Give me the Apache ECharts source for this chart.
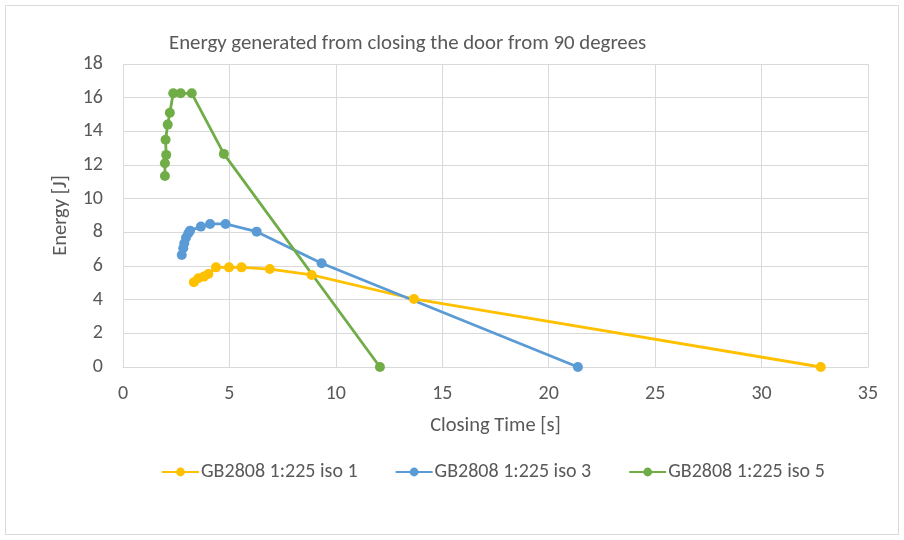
<!DOCTYPE html>
<html><head><meta charset="utf-8">
<script src="https://cdn.jsdelivr.net/npm/echarts@6/dist/echarts.min.js"></script>
<style>html,body{margin:0;padding:0;background:#fff}#c{width:904px;height:540px}</style>
</head><body><div id="c"></div>
<script>
const seriesNames = ['GB2808 1:225 iso 1', 'GB2808 1:225 iso 3', 'GB2808 1:225 iso 5'];
const iso1X = [3.33, 3.54, 3.80, 4.01, 4.37, 4.98, 5.57, 6.90, 8.86, 13.67, 32.78];
const iso1Y = [5.03, 5.27, 5.37, 5.53, 5.92, 5.92, 5.92, 5.82, 5.47, 4.04, 0];
const iso3X = [2.76, 2.83, 2.88, 2.96, 3.07, 3.15, 3.66, 4.09, 4.82, 6.28, 9.33, 21.37];
const iso3Y = [6.65, 7.05, 7.35, 7.68, 7.94, 8.10, 8.34, 8.50, 8.50, 8.04, 6.16, 0];
const iso5X = [1.97, 1.97, 2.03, 2.00, 2.10, 2.20, 2.36, 2.71, 3.23, 4.74, 12.07];
const iso5Y = [11.35, 12.10, 12.60, 13.50, 14.40, 15.10, 16.26, 16.26, 16.26, 12.66, 0];
const colors = ['#FFC000', '#5B9BD5', '#70AD47'];
const font = 'Carlito, Calibri, Lato, "Noto Sans", sans-serif';

const zip = (xs, ys) => xs.map((x, i) => [x, ys[i]]);
const chart = echarts.init(document.getElementById('c'), null, {renderer: 'canvas'});
chart.setOption({
  animation: false,
  color: colors,
  textStyle: {fontFamily: font},
  title: {text: 'Energy generated from closing the door from 90 degrees', left: 164, top: 28,
    textStyle: {fontSize: 20.8, fontWeight: 'normal', color: '#595959', fontFamily: font}},
  grid: {left: 123, right: 36, top: 64, bottom: 173, containLabel: false},
  legend: {top: 457, left: 156, itemGap: 37, itemWidth: 37, itemHeight: 11,
    textStyle: {fontSize: 20, color: '#595959', fontFamily: font, padding: [0, 0, 0, -3]},
    data: seriesNames},
  graphic: [{type: 'rect', shape: {x: 5.5, y: 5.5, width: 893, height: 529},
    style: {fill: 'none', stroke: '#d9d9d9', lineWidth: 1}, silent: true}],
  xAxis: {type: 'value', min: 0, max: 35, interval: 5,
    name: 'Closing Time [s]', nameLocation: 'middle', nameGap: 48,
    nameTextStyle: {fontSize: 20.5, color: '#595959', fontFamily: font},
    axisLine: {show: true, lineStyle: {color: '#d9d9d9'}}, axisTick: {show: false},
    axisLabel: {fontSize: 20, color: '#595959', margin: 17, fontFamily: font},
    splitLine: {show: true, lineStyle: {color: '#d9d9d9'}}},
  yAxis: {type: 'value', min: 0, max: 18, interval: 2,
    name: 'Energy [J]', nameLocation: 'middle', nameGap: 44, nameRotate: 90,
    nameTextStyle: {fontSize: 20.5, color: '#595959', fontFamily: font},
    axisLine: {show: false}, axisTick: {show: false},
    axisLabel: {fontSize: 20, color: '#595959', margin: 20, fontFamily: font},
    splitLine: {show: true, lineStyle: {color: '#d9d9d9'}}},
  series: [
    {name: seriesNames[0], type: 'line', data: zip(iso1X, iso1Y), symbol: 'circle', symbolSize: 10, lineStyle: {width: 2.8}},
    {name: seriesNames[1], type: 'line', data: zip(iso3X, iso3Y), symbol: 'circle', symbolSize: 10, lineStyle: {width: 2.8}},
    {name: seriesNames[2], type: 'line', data: zip(iso5X, iso5Y), symbol: 'circle', symbolSize: 10, lineStyle: {width: 2.8}}
  ]
});
</script></body></html>
